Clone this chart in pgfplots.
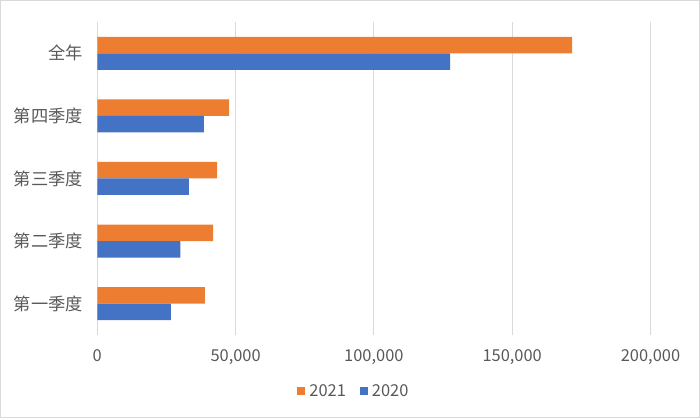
\documentclass[border=0pt]{standalone}
\usepackage{fontspec}
\setmainfont{Noto Sans CJK SC}
\usepackage{pgfplots}
\pgfplotsset{compat=1.18}
\definecolor{cOrange}{HTML}{ED7D31}
\definecolor{cBlue}{HTML}{4472C4}
\definecolor{cText}{HTML}{595959}
\definecolor{cGrid}{HTML}{D9D9D9}
\definecolor{cFrame}{HTML}{D9D9D9}
\begin{document}
\begin{tikzpicture}
\draw[cFrame, line width=1bp] (-96.8bp,-82.5bp) rectangle (602.2bp,334.5bp);
\begin{axis}[
  at={(0,0)}, anchor=south west,
  scale only axis, width=553.2bp, height=313bp,
  xbar, bar width=16.5bp,
  xmin=0, xmax=200000,
  ymin=-0.5, ymax=4.5,
  xtick={0,50000,100000,150000,200000},
  xticklabels={0,{50,000},{100,000},{150,000},{200,000}},
  ytick={0,1,2,3,4},
  yticklabels={第一季度,第二季度,第三季度,第四季度,全年},
  scaled x ticks=false,
  xmajorgrids, major grid style={cGrid, line width=1bp},
  axis line style={draw=none},
  tick style={draw=none},
  font=\fontsize{16.5}{19}\selectfont,
  xticklabel style={text=cText, anchor=base, yshift=-26bp, inner sep=0pt},
  yticklabel style={text=cText, anchor=east, inner sep=0pt, xshift=-10bp, font=\fontsize{17.3}{19}\selectfont},
  legend columns=2,
  legend style={at={(axis description cs:0.4622,-0.1805)}, anchor=center,
    draw=none, fill=none, font=\fontsize{16.5}{19}\selectfont, text=cText,
    nodes={inner sep=0pt},
    /tikz/every odd column/.append style={column sep=4bp},
    /tikz/every even column/.append style={column sep=14bp}},
  legend image code/.code={\fill[#1,draw=none] (0bp,-4bp) rectangle (8bp,4bp);},
]
\addplot[fill=cOrange, draw=none, bar shift=8.25bp] coordinates {
  (38900,0) (41900,1) (43300,2) (47700,3) (171700,4)};
\addlegendentry{2021}
\addplot[fill=cBlue, draw=none, bar shift=-8.25bp] coordinates {
  (26600,0) (30000,1) (33100,2) (38500,3) (127600,4)};
\addlegendentry{2020}
\end{axis}
\end{tikzpicture}
\end{document}
